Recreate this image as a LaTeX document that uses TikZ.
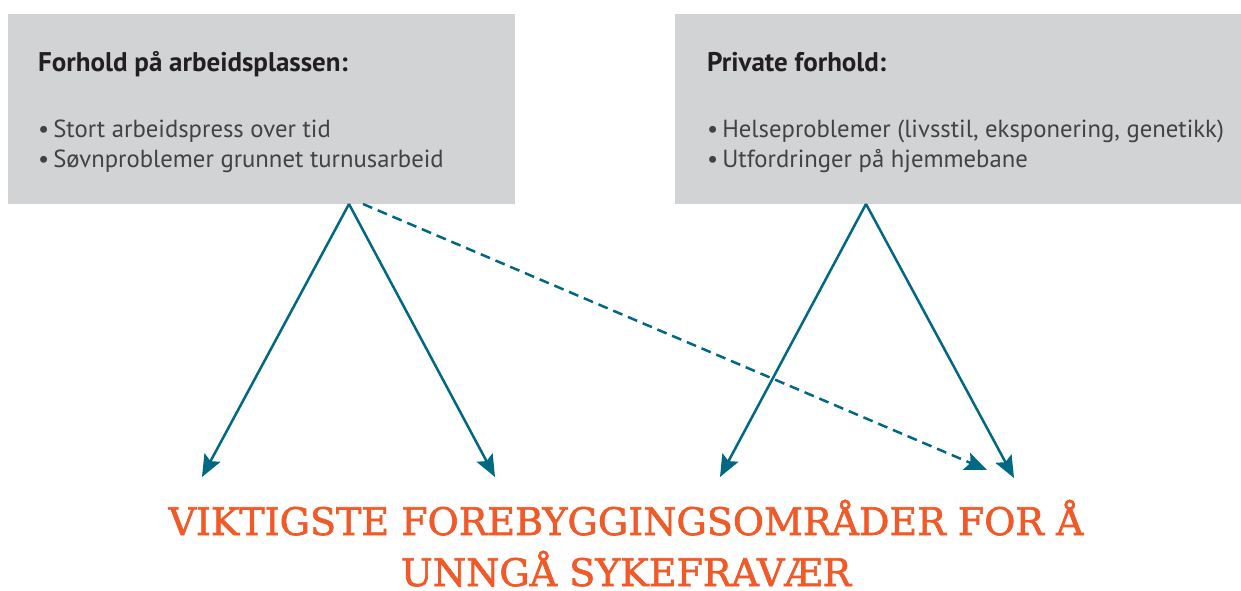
\documentclass[tikz,border=0pt]{standalone}
\usepackage{fontspec}
\setmainfont{PT Sans}
\newfontfamily\titlefont[FakeBold = 1.6]{DejaVu Serif}
\usetikzlibrary{arrows.meta, positioning}
\definecolor{boxgray}{RGB}{209,211,212}
\definecolor{linkteal}{RGB}{0,104,130}
\definecolor{titleorange}{RGB}{240,90,40}
\definecolor{textdark}{RGB}{35,31,32}
\tikzset{x = 1pt, y = -1pt,
         >= {Stealth[length = 22pt, width = 18pt, inset = 4pt]},
         factorbox/.style = {fill = boxgray, draw = none, anchor = north west},
         headline/.style = {anchor = base west, inner sep = 0, text = textdark,
           font = \fontsize{27}{30}\selectfont\bfseries},
         bulletline/.style = {anchor = base west, inner sep = 0, text = textdark!85,
           font = \fontsize{24.7}{30}\selectfont},
         link/.style = {draw = linkteal, line width = 2.5pt, ->},
         maybelink/.style = {link, dash pattern = on 10pt off 6pt}}

\begin{document}
\begin{tikzpicture}
  \useasboundingbox (0,0) rectangle (1241,591);

  % boxes
  \node[factorbox, minimum width = 507pt, minimum height = 190pt] (work)    at (8,14)   {};
  \node[factorbox, minimum width = 566pt, minimum height = 190pt] (private) at (675,14) {};

  \node[headline]   (workhead)  at (38,72)  {Forhold på arbeidsplassen:};
  \node[bulletline] (workone)   at (38,137) {•\kern4pt Stort arbeidspress over tid};
  \node[bulletline] (worktwo)   at (38,167) {•\kern4pt Søvnproblemer grunnet turnusarbeid};

  \node[headline]   (privhead)  at (707,72)  {Private forhold:};
  \node[bulletline] (privone)   at (707,137) {•\kern4pt Helseproblemer (livsstil, eksponering, genetikk)};
  \node[bulletline] (privtwo)   at (707,167) {•\kern4pt Utfordringer på hjemmebane};

  % goal
  \node[align = center, inner sep = 0, anchor = base, text = titleorange,
        font = \titlefont\fontsize{38}{51}\selectfont] (goal) at (626,586)
        {VIKTIGSTE FOREBYGGINGSOMRÅDER FOR Å\\UNNGÅ SYKEFRAVÆR};

  % connectors
  \coordinate (workapex) at (349,204);
  \coordinate (workdash) at (363,204);
  \coordinate (privapex) at (866,204);
  \coordinate (goalA) at (202,477);
  \coordinate (goalB) at (495,477);
  \coordinate (goalC) at (720,477);
  \coordinate (goalD) at (987,470);
  \coordinate (goalE) at (1014,478);

  \draw[link] (workapex) -- (goalA);
  \draw[link] (workapex) -- (goalB);
  \draw[link] (privapex) -- (goalC);
  \draw[link] (privapex) -- (goalE);
  \draw[maybelink] (workdash) -- (goalD);
\end{tikzpicture}
\end{document}
